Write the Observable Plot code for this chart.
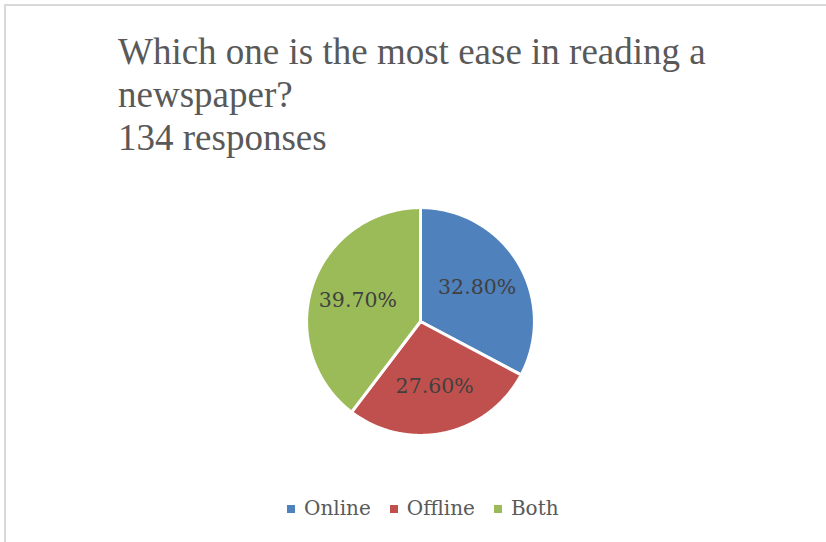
<!DOCTYPE html>
<html>
<head>
<meta charset="utf-8">
<script src="https://cdn.jsdelivr.net/npm/d3@7"></script>
<script src="https://cdn.jsdelivr.net/npm/@observablehq/plot@0.6"></script>
<style>
  html, body { margin: 0; padding: 0; background: #fff; width: 826px; height: 542px; overflow: hidden; }
  #frame { position: absolute; left: 4px; top: 4px; width: 840px; height: 560px;
           border-top: 2px solid #d9d9d9; border-left: 2px solid #d9d9d9; }
  #title { position: absolute; left: 118px; top: 30px; font-family: "Liberation Serif", serif;
           font-size: 37px; line-height: 43px; color: #595959; white-space: nowrap; }
  #chart { position: absolute; left: 288.5px; top: 190px; }
  #legend { position: absolute; left: 287px; top: 496px; display: flex; align-items: center;
            font-family: "DejaVu Serif", serif; font-size: 20px; line-height: 24px; color: #595959; }
  .item { display: flex; align-items: center; margin-right: 19px; }
  .sw { width: 8px; height: 8px; margin-right: 9px; position: relative; top: 1px; }
</style>
</head>
<body>
<div id="frame"></div>
<div id="title"></div>
<div id="chart"></div>
<div id="legend"></div>
<script>
const titleLines = ["Which one is the most ease in reading a", "newspaper?", "134 responses"];
const categories = ["Online", "Offline", "Both"];
const values = [32.8, 27.6, 39.7];
const labels = ["32.80%", "27.60%", "39.70%"];
const colors = ["#4F81BD", "#C0504D", "#9BBB59"];

document.getElementById("title").innerHTML = titleLines.join("<br>");

// build slice polygons (angles clockwise from 12 o'clock)
const total = d3.sum(values);
const pts = [];
const labelRows = [];
let acc = 0;
categories.forEach((name, i) => {
  const a0 = acc / total * 2 * Math.PI;
  acc += values[i];
  const a1 = acc / total * 2 * Math.PI;
  pts.push({name, x: 0, y: 0});
  const n = Math.max(2, Math.ceil((a1 - a0) / (Math.PI / 360)));
  for (let k = 0; k <= n; k++) {
    const a = a0 + (a1 - a0) * k / n;
    pts.push({name, x: Math.sin(a), y: Math.cos(a)});
  }
  pts.push({name, x: 0, y: 0});
  const am = (a0 + a1) / 2, r = 0.58;
  labelRows.push({label: labels[i], x: r * Math.sin(am), y: r * Math.cos(am)});
});

const chart = Plot.plot({
  width: 262,
  height: 262,
  margin: 0,
  x: {domain: [-1.15, 1.15], axis: null},
  y: {domain: [-1.15, 1.15], axis: null},
  color: {domain: categories, range: colors},
  style: {background: "transparent", overflow: "visible"},
  marks: [
    Plot.line(pts, {x: "x", y: "y", z: "name", fill: "name", stroke: "white", strokeWidth: 3, curve: "linear", strokeLinejoin: "round"}),
    Plot.text(labelRows, {x: "x", y: "y", text: "label", fontSize: 20.5, fontFamily: "DejaVu Serif", fill: "#404040"})
  ]
});
document.getElementById("chart").appendChild(chart);

const legend = document.getElementById("legend");
categories.forEach((name, i) => {
  const item = document.createElement("div");
  item.className = "item";
  item.innerHTML = `<span class="sw" style="background:${colors[i]}"></span><span>${name}</span>`;
  legend.appendChild(item);
});
</script>
</body>
</html>
